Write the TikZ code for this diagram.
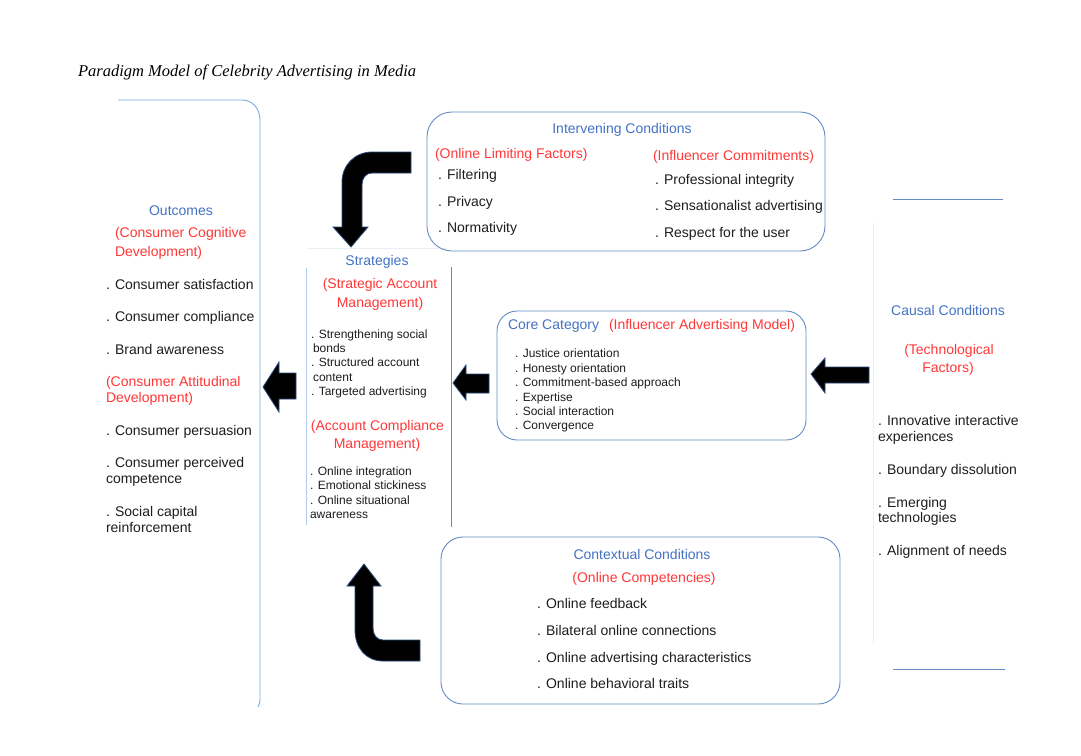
\documentclass[tikz,border=0pt]{standalone}
\usepackage{fontspec}
\setmainfont{Liberation Sans}
\newfontfamily\titlefont{Liberation Serif}
\definecolor{txt}{RGB}{30,30,30}
\definecolor{hblue}{RGB}{68,114,196}
\definecolor{hred}{RGB}{255,55,55}
\definecolor{boxc}{RGB}{100,140,195}
\definecolor{boxlight}{RGB}{125,170,225}
\definecolor{faint}{RGB}{235,238,242}
\definecolor{arrowc}{RGB}{45,75,125}
\begin{document}
\begin{tikzpicture}[x=1pt,y=-1pt,
  every node/.style={inner sep=0pt, outer sep=0pt},
  tx/.style={font=\fontsize{14}{16}\selectfont, text=txt, anchor=base west},
  sm/.style={font=\fontsize{12}{14}\selectfont, text=txt, anchor=base west},
  hd/.style={font=\fontsize{14}{16}\selectfont, text=hblue, anchor=base},
  rd/.style={font=\fontsize{14}{16}\selectfont, text=hred, anchor=base},
  boxline/.style={draw=boxc, line width=0.9pt},
  lightline/.style={draw=boxlight, line width=0.9pt},
  faintline/.style={draw=faint, line width=0.8pt},
  blockarrow/.style={fill=black, draw=arrowc, line width=0.8pt, line join=miter}]
\useasboundingbox[fill=white] (0,0) rectangle (1081,755);

% title
\node[font=\titlefont\itshape\fontsize{16.5}{18}\selectfont, anchor=base west, text=black] (title) at (78,76) {Paradigm Model of Celebrity Advertising in Media};

% ---------- box outlines ----------
\draw[lightline] (118,100) -- (242,100) .. controls (252,100) and (260,108) .. (260,120) -- (260,700) .. controls (260,703) and (259,705) .. (258,707);
\draw[faintline] (307,248) -- (447,248);
\draw[lightline, draw=boxlight!60] (306,268) -- (306,525);
\draw[boxline] (451,267) -- (451,527);
\draw[boxline, rounded corners=25pt] (427,112) rectangle (825,251);
\draw[boxline, rounded corners=20pt] (497,311) rectangle (806,440);
\draw[boxline, rounded corners=22pt] (441,537) rectangle (840,704);
\draw[boxline] (893,199) -- (1003,199);
\draw[boxline] (893,669) -- (1005,669);
\draw[faintline] (873,223) -- (873,643);

% ---------- Outcomes ----------
\node[hd] (outT) at (181,215) {Outcomes};
\node[rd, anchor=base west] (outR1) at (115,237) {(Consumer Cognitive};
\node[rd, anchor=base west] (outR2) at (115,256) {Development)};
\node[tx] (out1) at (106,289.5) {. Consumer satisfaction};
\node[tx] (out2) at (106,321) {. Consumer compliance};
\node[tx] (out3) at (106,354) {. Brand awareness};
\node[rd, anchor=base west] (outR3) at (106,386) {(Consumer Attitudinal};
\node[rd, anchor=base west] (outR4) at (106,402) {Development)};
\node[tx] (out4) at (106,435) {. Consumer persuasion};
\node[tx] (out5) at (106,467) {. Consumer perceived};
\node[tx] (out5b) at (106,483.5) {competence};
\node[tx] (out6) at (106,516) {. Social capital};
\node[tx] (out6b) at (106,532) {reinforcement};

% ---------- Strategies ----------
\node[hd] (strT) at (377,265) {Strategies};
\node[rd] (strR1) at (380,288) {(Strategic Account};
\node[rd] (strR2) at (380,307) {Management)};
\node[sm] (str1) at (311,338) {. Strengthening social};
\node[sm] (str1b) at (313,352) {bonds};
\node[sm] (str2) at (311,366.5) {. Structured account};
\node[sm] (str2b) at (313,381) {content};
\node[sm] (str3) at (311,395) {. Targeted advertising};
\node[rd] (strR3) at (377.5,430) {(Account Compliance};
\node[rd] (strR4) at (377,448.5) {Management)};
\node[sm] (str4) at (310,475.5) {. Online integration};
\node[sm] (str5) at (310,489.5) {. Emotional stickiness};
\node[sm] (str6) at (310,504) {. Online situational};
\node[sm] (str6b) at (310,518) {awareness};

% ---------- Intervening ----------
\node[hd] (intT) at (622,133) {Intervening Conditions};
\node[rd, anchor=base west] (intR1) at (435,158) {(Online Limiting Factors)};
\node[tx] (int1) at (438,179) {. Filtering};
\node[tx] (int2) at (438,206) {. Privacy};
\node[tx] (int3) at (438,232.5) {. Normativity};
\node[rd, anchor=base west] (intR2) at (653,160) {(Influencer Commitments)};
\node[tx] (int4) at (655,184) {. Professional integrity};
\node[tx] (int5) at (655,210.5) {. Sensationalist advertising};
\node[tx] (int6) at (655,237) {. Respect for the user};

% ---------- Core ----------
\node[hd, anchor=base west] (coreT) at (508,329.5) {Core Category};
\node[rd, anchor=base west] (coreR) at (609,329.5) {(Influencer Advertising Model)};
\node[sm] (core1) at (515,357.5) {. Justice orientation};
\node[sm] (core2) at (515,372) {. Honesty orientation};
\node[sm] (core3) at (515,386.5) {. Commitment-based approach};
\node[sm] (core4) at (515,401) {. Expertise};
\node[sm] (core5) at (515,415) {. Social interaction};
\node[sm] (core6) at (515,429.5) {. Convergence};

% ---------- Causal ----------
\node[hd] (cauT) at (948,315) {Causal Conditions};
\node[rd] (cauR1) at (949,354) {(Technological};
\node[rd] (cauR2) at (948,372) {Factors)};
\node[tx] (cau1) at (878,425.5) {. Innovative interactive};
\node[tx] (cau1b) at (878,441) {experiences};
\node[tx] (cau2) at (878,474.5) {. Boundary dissolution};
\node[tx] (cau3) at (878,507) {. Emerging};
\node[tx] (cau3b) at (878,522.5) {technologies};
\node[tx] (cau4) at (878,555) {. Alignment of needs};

% ---------- Contextual ----------
\node[hd] (conT) at (642,559.5) {Contextual Conditions};
\node[rd] (conR) at (644,582) {(Online Competencies)};
\node[tx] (con1) at (537,608.5) {. Online feedback};
\node[tx] (con2) at (537,635) {. Bilateral online connections};
\node[tx] (con3) at (537,662) {. Online advertising characteristics};
\node[tx] (con4) at (537,688.5) {. Online behavioral traits};

% ---------- block arrows ----------
% Strategies -> Outcomes
\draw[blockarrow] (263,387) -- (279,362) -- (279,373) -- (296,373) -- (296,399) -- (279,399) -- (279,412) -- cycle;
% Core -> Strategies
\draw[blockarrow] (453,383) -- (466,365) -- (466,374) -- (489,374) -- (489,393) -- (466,393) -- (466,400) -- cycle;
% Causal -> Core
\draw[blockarrow] (811,374) -- (825,358) -- (825,367) -- (869,367) -- (869,383) -- (825,383) -- (825,393) -- cycle;
% Intervening -> Strategies (bent)
\draw[blockarrow] (411,152) -- (372,152) .. controls (355,152) and (342,165) .. (342,182) -- (342,227) -- (333,227) -- (351,247) -- (368,227) -- (362,227) -- (362,185) .. controls (362,178) and (366,173) .. (372,173) -- (411,173) -- cycle;
% Contextual -> Strategies (bent)
\draw[blockarrow] (364,564) -- (381,586) -- (373,586) -- (373,628) .. controls (373,635) and (377,640) .. (383,640) -- (420,640) -- (420,661) -- (383,661) .. controls (366,661) and (355,648) .. (355,630) -- (355,586) -- (347,586) -- cycle;
\end{tikzpicture}
\end{document}
